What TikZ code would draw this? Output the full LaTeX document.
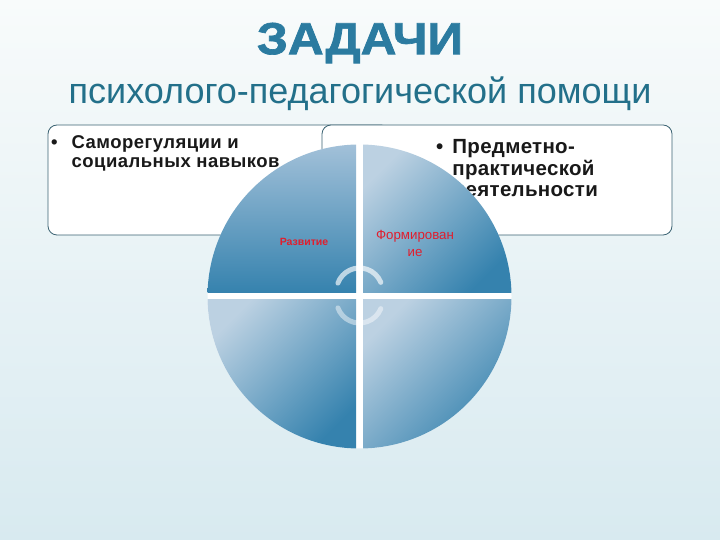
\documentclass[tikz,border=0pt]{standalone}
\usepackage{fontspec}
\setmainfont{Liberation Sans}
\definecolor{titleblue}{HTML}{2B7BA0}
\definecolor{subteal}{HTML}{23708A}
\definecolor{boxline}{HTML}{3B6373}
\definecolor{qlight}{HTML}{BCD1E2}
\definecolor{qlightb}{HTML}{A3C1D9}
\definecolor{qmid}{HTML}{8CB2CE}
\definecolor{qdark}{HTML}{3582AE}
\definecolor{redtext}{HTML}{E01E2E}
\definecolor{bgtop}{HTML}{F8FBFB}
\definecolor{bgmid}{HTML}{F2F8FA}
\definecolor{bgbot}{HTML}{D8EAF0}
\tikzset{
  tbox/.style={draw=boxline, line width=0.8pt, fill=white, rounded corners=9pt},
  quad/.style={shading=axis, top color=qlight, middle color=qmid, bottom color=qdark, shading angle=45},
  bodytext/.style={inner sep=0pt, align=left, text=black!90, anchor=north west},
  redlbl/.style={text=redtext, inner sep=0pt, align=center},
  cyc/.style={line width=5pt, draw=white, line cap=round}
}
\begin{document}
\begin{tikzpicture}[x=1pt,y=1pt]
\useasboundingbox (0,0) rectangle (720,540);
\shade[top color=bgtop, middle color=bgmid, bottom color=bgbot] (0,0) rectangle (720,540);
% title
\node[font=\fontsize{45}{48}\selectfont\bfseries\addfontfeatures{FakeBold=1.5}, text=titleblue, inner sep=0pt] (title) at (360,497) {\scalebox{1.1}[1]{ЗАДАЧИ}};
\node[font=\fontsize{36}{40}\selectfont, text=subteal, inner sep=0pt] (subtitle) at (360,446) {психолого-педагогической помощи};
% boxes
\draw[tbox] (48,415) rectangle (390,305);
\draw[tbox] (322,415) rectangle (672,305);
\node[bodytext, font=\fontsize{18.5}{19}\selectfont\bfseries\addfontfeatures{LetterSpace=2.5}] (lt) at (51,405)
  {\begin{tabular}{@{}l@{\hspace{14pt}}l@{}}•&Саморегуляции и\\&социальных навыков\end{tabular}};
\node[bodytext, font=\fontsize{20.5}{21}\selectfont\bfseries\addfontfeatures{LetterSpace=1.5}] (rt) at (436,401)
  {\begin{tabular}{@{}l@{\hspace{9pt}}l@{}}•&Предметно-\\&практической\\&деятельности\end{tabular}};
% circle quadrants
\fill[white] (359.5,243.5) circle (152);
\begin{scope}
\clip (359.5,243.5) circle (152);
\shade[quad, top color=qlightb] (206,247) rectangle (356,397);
\shade[quad] (363,247) rectangle (513,397);
\shade[quad] (206,240) rectangle (356,90);
\shade[quad] (363,240) rectangle (513,90);
\end{scope}
% cycle arrows
\draw[cyc, opacity=0.65] (359.5,249) ++(160:23) arc[start angle=160, end angle=22, radius=23];
\draw[cyc, opacity=0.45] (359.5,240) ++(200:23) arc[start angle=200, end angle=338, radius=23];
% labels
\node[redlbl, font=\fontsize{10.5}{11}\selectfont\bfseries] (dev) at (304,298) {Развитие};
\node[redlbl, font=\fontsize{13.3}{17}\selectfont] (form) at (415,297) {Формирован\\ие};
\end{tikzpicture}
\end{document}
